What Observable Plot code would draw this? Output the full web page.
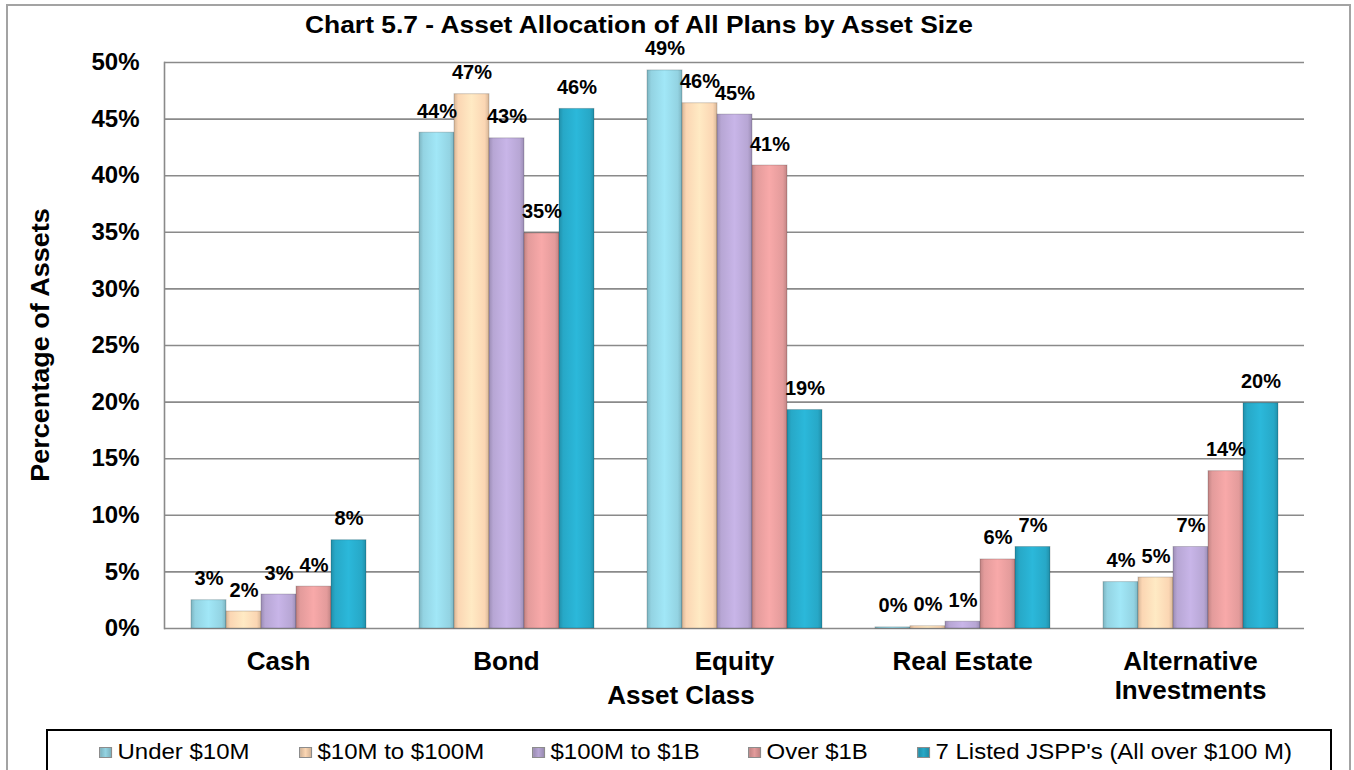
<!DOCTYPE html>
<html><head><meta charset="utf-8">
<script src="https://cdn.jsdelivr.net/npm/d3@7"></script>
<script src="https://cdn.jsdelivr.net/npm/@observablehq/plot@0.6"></script>
<style>
body{margin:0;background:#fff;font-family:"Liberation Sans",Arial,sans-serif;color:#000}
#wrap{position:relative;width:1354px;height:770px;overflow:hidden}
#border{position:absolute;left:6px;top:4px;width:1345px;height:820px;border:2px solid #a3a3a3;box-sizing:border-box}
#chart{position:absolute;left:0;top:0}
#title{position:absolute;left:305px;top:13px;font-weight:bold;font-size:24px;line-height:24px;white-space:nowrap;transform:scaleX(1.1);transform-origin:left top}
#ytitle{position:absolute;left:40px;top:345px;font-weight:bold;font-size:25px;line-height:25px;white-space:nowrap;transform:translate(-50%,-50%) rotate(-90deg) scaleX(1.08)}
#xtitle{position:absolute;left:681px;top:682px;transform:translateX(-50%);font-weight:bold;font-size:26px;line-height:26px;white-space:nowrap}
#legend{position:absolute;left:46px;top:729px;width:1286px;height:80px;border:2px solid #000;box-sizing:border-box}
.item{position:absolute;top:10px;display:flex;align-items:center;font-size:22px;line-height:22px;white-space:nowrap;transform:scaleX(1.09);transform-origin:left center}
.sw{width:12px;height:11px;border:1px solid #8c8c8c;margin-right:5px;box-sizing:border-box}
</style></head>
<body>
<div id="wrap">
  <div id="border"></div>
  <div id="chart"></div>
  <div id="title">Chart 5.7 - Asset Allocation of All Plans by Asset Size</div>
  <div id="ytitle">Percentage of Assets</div>
  <div id="xtitle">Asset Class</div>
  <div id="legend"></div>
</div>
<script>
// ---- data ----
const categories = ["Cash", "Bond", "Equity", "Real Estate", "Alternative Investments"];
const categoryLabels = ["Cash", "Bond", "Equity", "Real Estate", "Alternative\nInvestments"];
const series = ["Under $10M", "$10M to $100M", "$100M to $1B", "Over $1B", "7 Listed JSPP's (All over $100 M)"];
const under10M  = [2.5, 43.8, 49.3, 0.1, 4.1];
const m10to100M = [1.5, 47.2, 46.4, 0.2, 4.5];
const m100to1B  = [3.0, 43.3, 45.4, 0.6, 7.2];
const over1B    = [3.7, 34.9, 40.9, 6.1, 13.9];
const jspp      = [7.8, 45.9, 19.3, 7.2, 19.9];
const yTicks = [0, 5, 10, 15, 20, 25, 30, 35, 40, 45, 50];
const colors = ["#93d3e2", "#fbd6b3", "#b7a6d4", "#e39b9b", "#27a8c7"];

const seriesValues = [under10M, m10to100M, m100to1B, over1B, jspp];
const data = [];
categories.forEach((c, ci) => series.forEach((s, si) => data.push({category: c, series: s, value: seriesValues[si][ci]})));

const font = '"Liberation Sans", Arial, sans-serif';
const chart = Plot.plot({
  width: 1354, height: 728,
  marginTop: 62, marginBottom: 100, marginLeft: 163, marginRight: 49,
  style: {fontFamily: font, color: "#000", background: "transparent", overflow: "visible"},
  fx: {domain: categories, padding: 0, label: null},
  x: {domain: series, paddingInner: 0, paddingOuter: 0.745, axis: null},
  y: {domain: [0, 50], label: null},
  color: {domain: series, range: series.map((_, i) => `url(#g${i})`)},
  marks: [
    Plot.gridY(yTicks, {stroke: "#8a8a8a", strokeOpacity: 1, strokeWidth: 1.6}),
    Plot.frame({anchor: "left", facetAnchor: "left", stroke: "#8a8a8a", strokeWidth: 1.6}),
    Plot.barY(data, {fx: "category", x: "series", y: "value", fill: "series", stroke: "rgba(0,0,0,0.18)", strokeWidth: 1}),
    Plot.text(data, {fx: "category", x: "series", y: "value", text: d => Math.round(d.value) + "%",
      lineAnchor: "bottom", dy: -15, fontSize: 20, fontWeight: "bold", fill: "#000"}),
    Plot.axisY(yTicks, {tickFormat: d => d + "%", tickSize: 0, tickPadding: 25, fontSize: 24, fontWeight: "bold", label: null}),
    Plot.axisFx({anchor: "bottom", tickSize: 0, tickPadding: 21, fontSize: 26, fontWeight: "bold", label: null, lineHeight: 1.12,
      tickFormat: d => categoryLabels[categories.indexOf(d)]})
  ]
});

// gradient definitions for the bevelled bars
const defs = d3.create("svg:defs");
colors.forEach((c, i) => {
  const base = d3.color(c);
  const g = defs.append("linearGradient").attr("id", "g" + i).attr("x1", 0).attr("x2", 1).attr("y1", 0).attr("y2", 0);
  [[0, base.darker(0.45)], [0.12, base], [0.5, base.brighter(0.25)], [0.88, base], [1, base.darker(0.45)]]
    .forEach(([o, col]) => g.append("stop").attr("offset", o).attr("stop-color", col.formatHex()));
});
chart.insertBefore(defs.node(), chart.firstChild);
document.getElementById("chart").appendChild(chart);

// legend
const legendLeft = [51, 251, 484, 700, 869];
const legend = d3.select("#legend");
series.forEach((s, i) => {
  const it = legend.append("div").attr("class", "item").style("left", legendLeft[i] + "px");
  it.append("div").attr("class", "sw").style("background", `linear-gradient(to right, ${d3.color(colors[i]).darker(0.5)}, ${colors[i]}, ${d3.color(colors[i]).darker(0.5)})`);
  it.append("span").text(s);
});
</script>
</body></html>
